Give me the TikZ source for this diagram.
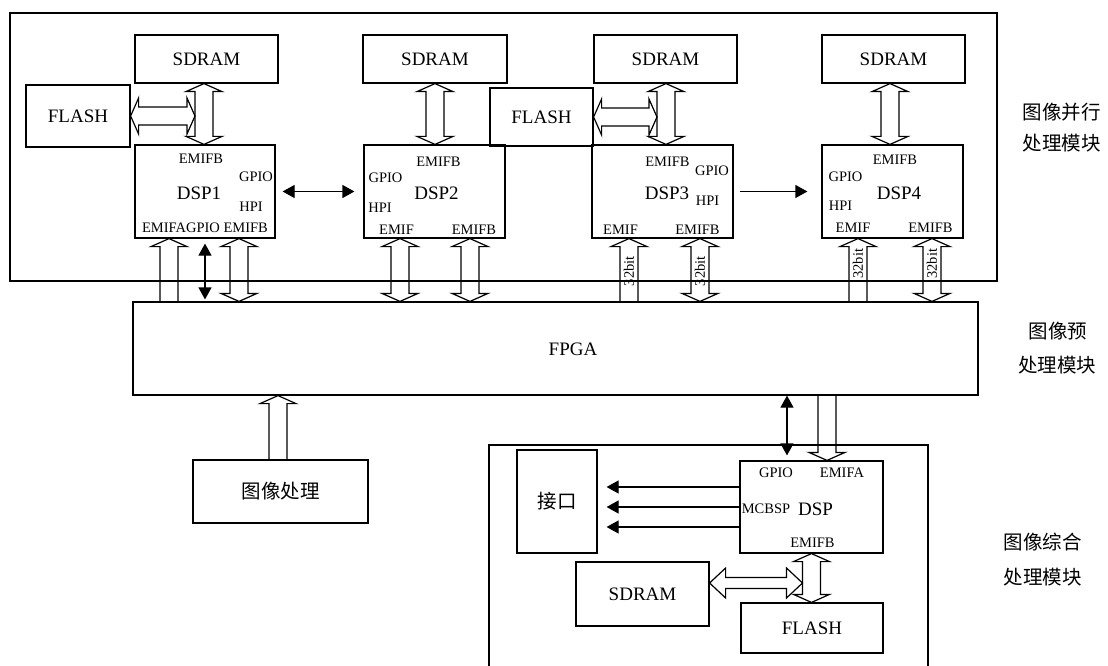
\documentclass[tikz,border=0pt]{standalone}
\usepackage{fontspec}
\setmainfont{Liberation Serif}
\newfontfamily\cjk{Noto Sans CJK SC}
\usetikzlibrary{arrows.meta, calc}

% hollow bus arrows: half shaft, half head, head length
\newcommand\busw{9pt}
\newcommand\bush{18pt}
\newcommand\busl{8pt}

\tikzset{
  blk/.style={draw, line width=1.2pt, inner sep=0pt, font=\fontsize{19}{19}\selectfont},
  pin/.style={inner sep=0pt, font=\fontsize{14.5}{14.5}\selectfont},
  bits/.style={pin, rotate=90},
  zh/.style={inner sep=0pt, font=\cjk\fontsize{19.5}{19.5}\selectfont},
  sig/.style={line width=1.2pt, -{Triangle[length=12pt,width=13pt]}},
  sig2/.style={line width=1.2pt, {Triangle[length=12pt,width=13pt]}-{Triangle[length=12pt,width=13pt]}},
  busw/.code={\renewcommand\busw{#1}},
  bush/.code={\renewcommand\bush{#1}},
  busl/.code={\renewcommand\busl{#1}},
  bus/.style={draw, line width=1.2pt, to path={
    (\tikztostart)
    -- ($(\tikztostart)!\busl!(\tikztotarget)!\bush!90:(\tikztotarget)$)
    -- ($(\tikztostart)!\busl!(\tikztotarget)!\busw!90:(\tikztotarget)$)
    -- ($(\tikztotarget)!\busl!(\tikztostart)!\busw!-90:(\tikztostart)$)
    -- ($(\tikztotarget)!\busl!(\tikztostart)!\bush!-90:(\tikztostart)$)
    -- (\tikztotarget)
    -- ($(\tikztotarget)!\busl!(\tikztostart)!\bush!90:(\tikztostart)$)
    -- ($(\tikztotarget)!\busl!(\tikztostart)!\busw!90:(\tikztostart)$)
    -- ($(\tikztostart)!\busl!(\tikztotarget)!\busw!-90:(\tikztotarget)$)
    -- ($(\tikztostart)!\busl!(\tikztotarget)!\bush!-90:(\tikztotarget)$)
    -- cycle}},
  inbus/.style={draw, line width=1.2pt, to path={
    ($(\tikztostart)!\busw!90:(\tikztotarget)$)
    -- ($(\tikztotarget)!\busl!(\tikztostart)!\busw!-90:(\tikztostart)$)
    -- ($(\tikztotarget)!\busl!(\tikztostart)!\bush!-90:(\tikztostart)$)
    -- (\tikztotarget)
    -- ($(\tikztotarget)!\busl!(\tikztostart)!\bush!90:(\tikztostart)$)
    -- ($(\tikztotarget)!\busl!(\tikztostart)!\busw!90:(\tikztostart)$)
    -- ($(\tikztostart)!\busw!-90:(\tikztotarget)$)}},
}

\begin{document}
\begin{tikzpicture}[x=1pt, y=-1pt, line width=1.2pt]
  \useasboundingbox (0,0) rectangle (1108,666);
  % module frames
  \draw (10,13) rectangle (997,281);
  \draw (489,668) |- (928,445) -- (928,668);
  \node[zh] (par1) at (1061.5,112.5) {图像并行};
  \node[zh] (par2) at (1061.5,143.5) {处理模块};
  \node[zh] (pre1) at (1058,331) {图像预};
  \node[zh] (pre2) at (1057,365) {处理模块};
  \node[zh] (syn1) at (1042.5,542) {图像综合};
  \node[zh] (syn2) at (1042.5,577) {处理模块};

  % parallel module
  \node[blk, minimum width=143, minimum height=48] (sd1) at (206.5,59) {SDRAM};
  \node[blk, minimum width=144, minimum height=48] (sd2) at (435,59) {SDRAM};
  \node[blk, minimum width=143, minimum height=48] (sd3) at (665.5,59) {SDRAM};
  \node[blk, minimum width=143, minimum height=48] (sd4) at (893.5,59) {SDRAM};
  \node[blk, minimum width=104, minimum height=62] (fl1) at (78,116) {FLASH};
  \node[blk, minimum width=103, minimum height=58] (fl2) at (541.5,117) {FLASH};
  \node[blk, minimum width=140, minimum height=93] (dsp1) at (205,191.5) {};
  \node[blk, minimum width=141, minimum height=93] (dsp2) at (434.5,191.5) {};
  \node[blk, minimum width=141, minimum height=93] (dsp3) at (662.5,191.5) {};
  \node[blk, minimum width=141, minimum height=93] (dsp4) at (892.5,191.5) {};

  \node[pin] (d1b) at (201,158.5) {EMIFB};
  \node[pin] (d1g) at (256,177) {GPIO};
  \node[blk, draw=none] (d1n) at (199,193) {DSP1};
  \node[pin] (d1h) at (251,207) {HPI};
  \node[pin] (d1e) at (205,228) {EMIFAGPIO EMIFB};

  \node[pin] (d2b) at (438.5,162) {EMIFB};
  \node[pin] (d2g) at (385.5,178) {GPIO};
  \node[blk, draw=none] (d2n) at (436.5,193) {DSP2};
  \node[pin] (d2h) at (380,208) {HPI};
  \node[pin] (d2e) at (396.5,230) {EMIF};
  \node[pin] (d2f) at (474,230) {EMIFB};

  \node[pin] (d3b) at (667.5,162) {EMIFB};
  \node[pin] (d3g) at (712,171) {GPIO};
  \node[blk, draw=none] (d3n) at (667,193) {DSP3};
  \node[pin] (d3h) at (707.5,201) {HPI};
  \node[pin] (d3e) at (620.5,230) {EMIF};
  \node[pin] (d3f) at (697.5,230) {EMIFB};

  \node[pin] (d4b) at (895,160) {EMIFB};
  \node[pin] (d4g) at (845.5,177) {GPIO};
  \node[blk, draw=none] (d4n) at (899,193) {DSP4};
  \node[pin] (d4h) at (840.5,206) {HPI};
  \node[pin] (d4e) at (853,228) {EMIF};
  \node[pin] (d4f) at (930.5,228) {EMIFB};

  \draw (204,0 |- sd1.south) to[bus] (204,0 |- dsp1.north);
  \draw (fl1.east) to[bus] (195,0 |- fl1.east);
  \draw (sd2.south) to[bus] (sd2.south |- dsp2.north);
  \draw (666,0 |- sd3.south) to[bus] (666,0 |- dsp3.north);
  \draw (fl2.east) to[bus] (657,0 |- fl2.east);
  \draw (890,0 |- sd4.south) to[bus] (890,0 |- dsp4.north);
  \draw[sig2, shorten <=7pt, shorten >=9pt] (dsp1.east) -- (dsp2.west);
  \draw[sig, shorten <=6pt, shorten >=14pt] (dsp3.east) -- (dsp4.west);

  % preprocessing module
  \node[blk, minimum width=845, minimum height=93] (fpga) at (555.5,348.5) {};
  \node[blk, draw=none] (fpgan) at (573,349) {FPGA};
  \node[blk, zh, minimum width=175, minimum height=63] (img) at (280.5,491.5) {图像处理};

  \path (169,0 |- fpga.north) edge[inbus] (169,0 |- dsp1.south)
        (239,0 |- dsp1.south) edge[bus] (239,0 |- fpga.north)
        (400,0 |- dsp2.south) edge[bus] (400,0 |- fpga.north)
        (470,0 |- dsp2.south) edge[bus] (470,0 |- fpga.north)
        (629,0 |- fpga.north) edge[inbus] (629,0 |- dsp3.south)
        (700,0 |- dsp3.south) edge[bus] (700,0 |- fpga.north)
        (858,0 |- fpga.north) edge[inbus] (858,0 |- dsp4.south)
        (932,0 |- dsp4.south) edge[bus] (932,0 |- fpga.north);
  \path (629,0 |- dsp3.south) -- node[bits, pos=.52] (w3a) {32bit} (629,0 |- fpga.north);
  \path (700,0 |- dsp3.south) -- node[bits, pos=.52] (w3b) {32bit} (700,0 |- fpga.north);
  \path (858,0 |- dsp4.south) -- node[bits, pos=.4] (w4a) {32bit} (858,0 |- fpga.north);
  \path (932,0 |- dsp4.south) -- node[bits, pos=.4] (w4b) {32bit} (932,0 |- fpga.north);
  \draw[sig2, shorten <=5pt, shorten >=2pt] (205,0 |- dsp1.south) -- (205,0 |- fpga.north);
  \draw (278,0 |- img.north) to[inbus] (278,0 |- fpga.south);

  % synthesis module
  \node[blk, minimum width=143, minimum height=92] (dsp5) at (811.5,507) {};
  \node[pin] (d5g) at (776,473) {GPIO};
  \node[pin] (d5a) at (842,473) {EMIFA};
  \node[pin] (d5m) at (766,508.5) {MCBSP};
  \node[blk, draw=none] (d5n) at (815.5,509) {DSP};
  \node[pin] (d5b) at (812.5,543) {EMIFB};
  \node[blk, zh, minimum width=80, minimum height=103] (jk) at (557,501.5) {接口};
  \node[blk, minimum width=133, minimum height=64] (sd5) at (642.5,594) {SDRAM};
  \node[blk, minimum width=142, minimum height=50] (fl5) at (812,628) {FLASH};
  \coordinate (tap) at (802.5,583);

  \draw[sig2, shorten >=5pt] (787,0 |- fpga.south) -- (787,0 |- dsp5.north);
  \draw (827,0 |- fpga.south) to[inbus] (827,0 |- dsp5.north);
  \foreach \y in {487,507,527}
    \draw[sig, shorten >=9pt] (dsp5.west |- 0,\y) -- (jk.east |- 0,\y);
  \draw (dsp5.south) to[bus] (dsp5.south |- fl5.north);
  \draw (sd5.east |- tap) to[bus, busw=5.5pt, bush=15pt, busl=16pt] (tap);
\end{tikzpicture}
\end{document}
